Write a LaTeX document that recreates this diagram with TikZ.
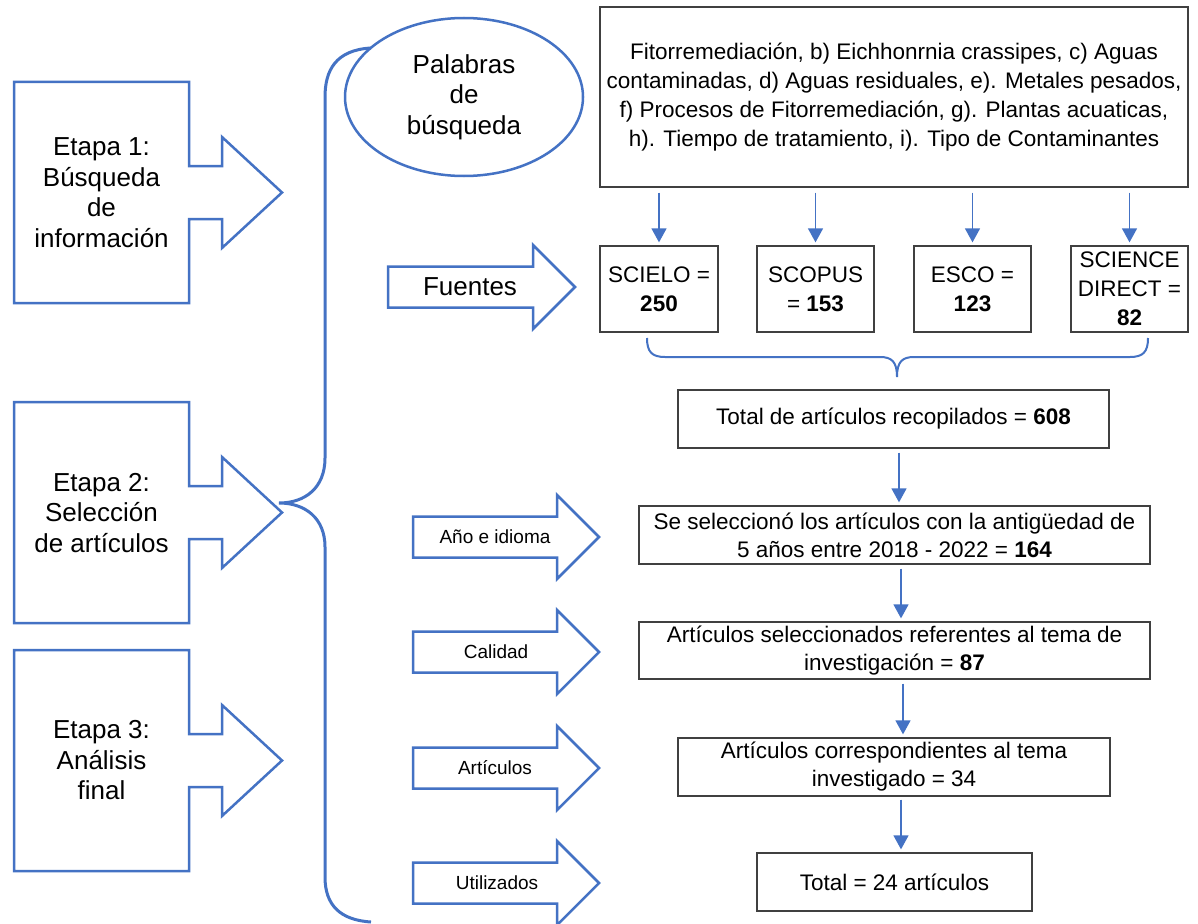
\documentclass[tikz,border=0pt]{standalone}
\usepackage{fontspec}
\setmainfont{Liberation Sans}
\usetikzlibrary{shapes.geometric,arrows.meta}
\definecolor{ob}{HTML}{4472C4}
\definecolor{bx}{HTML}{404040}
\newcommand{\etapashape}[1]{%
  \draw[blueline] (14,#1-110.5) -- (189,#1-110.5) -- (189,#1-26.5) -- (222,#1-26.5) -- (222,#1-55.5) -- (282,#1) -- (222,#1+55.5) -- (222,#1+26.5) -- (189,#1+26.5) -- (189,#1+110.5) -- (14,#1+110.5) -- cycle;}
\newcommand{\flechashape}[4]{% yc, xleft, notch, tip
  \draw[blueline] (#2,#1-20.5) -- (#3,#1-20.5) -- (#3,#1-42) -- (#4,#1) -- (#3,#1+42) -- (#3,#1+20.5) -- (#2,#1+20.5) -- cycle;}
\begin{document}
\begin{tikzpicture}[x=1pt,y=-1pt,
  blueline/.style={draw=ob, line width=2.5pt, line join=miter},
  bigtxt/.style={align=center, inner sep=0pt, font=\fontsize{26}{30.5}\selectfont},
  smalltxt/.style={align=center, inner sep=0pt, font=\fontsize{19}{22}\selectfont},
  gbox/.style={draw=bx, line width=1.3pt, inner sep=0pt, align=center, font=\fontsize{22.5}{29}\selectfont},
  conn/.style={draw=ob, line width=1.4pt, -{Triangle[length=14pt,width=15pt]}, shorten >=3pt},
  braceline/.style={draw=ob, line width=3pt},
]
\useasboundingbox (0,0) rectangle (1198,923);
\fill[white] (0,0) rectangle (1198,923);

% Stage callouts
\etapashape{192.5}
\etapashape{512.5}
\etapashape{760.5}
\node[bigtxt] (e1) at (101.5,192.5) {Etapa 1:\\Búsqueda\\de\\información};
\node[bigtxt] (e2) at (101.5,513) {Etapa 2:\\Selección\\de artículos};
\node[bigtxt] (e3) at (101.5,760.5) {Etapa 3:\\Análisis\\final};

% Ellipse
\node[ellipse, draw=ob, line width=2.5pt, minimum width=238pt, minimum height=158pt, bigtxt] (pal) at (464,97) {Palabras\\de\\búsqueda};

% Big brace
\draw[braceline] (371,48) .. controls (336,50) and (325,70) .. (325,97) -- (325,458)
  .. controls (325,488) and (305,503) .. (279,503)
  .. controls (305,503) and (325,518) .. (325,547) -- (325,877)
  .. controls (325,905) and (340,920) .. (371,922);

% Fuentes arrow
\flechashape{287}{388}{533}{575}
\node[inner sep=0pt, font=\fontsize{26}{30}\selectfont] (fu) at (470,287) {Fuentes};

% small arrows
\flechashape{537}{413}{557}{599}
\flechashape{652}{413}{557}{599}
\flechashape{768}{413}{557}{599}
\flechashape{883}{413}{557}{599}
\node[smalltxt] (a1) at (495,537) {Año e idioma};
\node[smalltxt] (a2) at (496,652) {Calidad};
\node[smalltxt] (a3) at (495,768) {Artículos};
\node[smalltxt] (a4) at (497,883) {Utilizados};

% Keyword box
\node[gbox, minimum width=588pt, minimum height=180pt] (kw) at (894,97) {Fitorremediación, b) Eichhonrnia crassipes, c) Aguas\\contaminadas, d) Aguas residuales, e). Metales pesados,\\f) Procesos de Fitorremediación, g). Plantas acuaticas,\\h). Tiempo de tratamiento, i). Tipo de Contaminantes};

% Sources
\node[gbox, minimum width=118pt, minimum height=86pt] (s1) at (659,289) {SCIELO =\\\textbf{250}};
\node[gbox, minimum width=117pt, minimum height=86pt] (s2) at (815.5,289) {SCOPUS\\= \textbf{153}};
\node[gbox, minimum width=117pt, minimum height=86pt] (s3) at (972.5,289) {ESCO =\\\textbf{123}};
\node[gbox, minimum width=117pt, minimum height=86pt] (s4) at (1129.5,289) {SCIENCE\\DIRECT =\\\textbf{82}};

\foreach \s in {s1,s2,s3,s4}{
  \draw[conn] ([yshift=-5pt]kw.south -| \s.north) -- (\s.north);
}

% sources brace
\draw[draw=ob, line width=2pt] (647,338) .. controls (647,352) and (652,357) .. (665,357) -- (880,357)
  .. controls (892,357) and (897,362) .. (897,377)
  .. controls (897,362) and (902,357) .. (914,357) -- (1130,357)
  .. controls (1143,357) and (1148,352) .. (1148,338);

% Flow boxes
\node[gbox, minimum width=431pt, minimum height=58pt] (tot) at (893.5,419) {Total de artículos recopilados = \textbf{608}};
\node[gbox, minimum width=511pt, minimum height=58pt, font=\fontsize{22.5}{28}\selectfont] (sel1) at (894.5,535) {Se seleccionó los artículos con la antigüedad de\\5 años entre 2018 - 2022 = \textbf{164}};
\node[gbox, minimum width=511pt, minimum height=57pt, font=\fontsize{22.5}{28}\selectfont] (sel2) at (894.5,650.5) {Artículos seleccionados referentes al tema de\\investigación = \textbf{87}};
\node[gbox, minimum width=432pt, minimum height=58pt, font=\fontsize{22.5}{28}\selectfont] (corr) at (894,767) {Artículos correspondientes al tema\\investigado = 34};
\node[gbox, minimum width=275pt, minimum height=58pt] (fin) at (894.5,882) {Total = 24 artículos};

\draw[conn] ([xshift=5.5pt,yshift=-4pt]tot.south) -- ([xshift=4.5pt]sel1.north);
\draw[conn] ([xshift=6.5pt,yshift=-4pt]sel1.south) -- ([xshift=6.5pt]sel2.north);
\draw[conn] ([xshift=8.5pt,yshift=-4pt]sel2.south) -- ([xshift=9pt]corr.north);
\draw[conn] ([xshift=7pt,yshift=-3pt]corr.south) -- ([xshift=6.5pt]fin.north);
\end{tikzpicture}
\end{document}
